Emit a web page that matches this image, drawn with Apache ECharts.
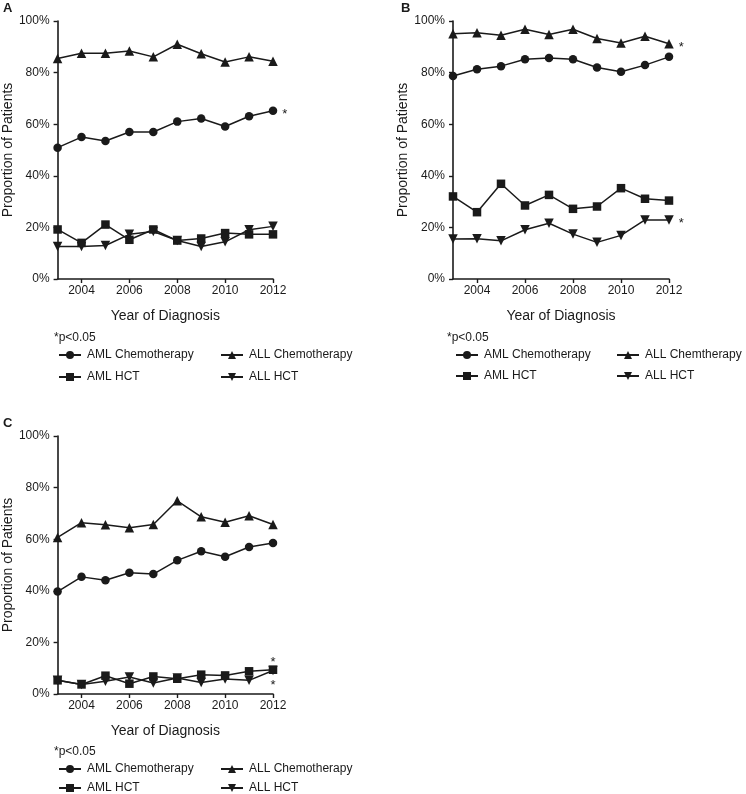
<!DOCTYPE html>
<html>
<head>
<meta charset="utf-8">
<script src="https://cdn.jsdelivr.net/npm/echarts@6/dist/echarts.min.js"></script>
<style>
html,body{margin:0;padding:0;background:#fff;}
#chart{width:746px;height:794px;}
</style>
</head>
<body>
<div id="chart"></div>
<script>
// ---- Data ----
const years = [2003, 2004, 2005, 2006, 2007, 2008, 2009, 2010, 2011, 2012];
const xTickLabels = [2004, 2006, 2008, 2010, 2012];
const yTicks = [0, 20, 40, 60, 80, 100];

// Panel A
const A_amlChemo = [50.9, 55.0, 53.5, 57.0, 57.0, 61.0, 62.2, 59.1, 63.1, 65.2];
const A_allChemo = [85.5, 87.5, 87.5, 88.4, 86.1, 91.0, 87.3, 84.1, 86.1, 84.4];
const A_amlHct   = [19.2, 14.0, 21.1, 15.2, 19.2, 14.9, 15.7, 17.8, 17.3, 17.3];
const A_allHct   = [12.6, 12.6, 13.0, 17.3, 18.4, 14.9, 12.6, 14.4, 19.1, 20.4];

// Panel B
const B_amlChemo = [78.7, 81.3, 82.5, 85.2, 85.7, 85.2, 82.0, 80.3, 82.9, 86.1];
const B_allChemo = [95.1, 95.4, 94.5, 96.8, 94.8, 96.8, 93.2, 91.5, 94.1, 91.2];
const B_amlHct   = [32.0, 25.9, 36.9, 28.5, 32.6, 27.2, 28.1, 35.2, 31.1, 30.4];
const B_allHct   = [15.5, 15.6, 14.8, 19.1, 21.6, 17.4, 14.2, 16.9, 22.9, 22.9];

// Panel C
const C_amlChemo = [39.7, 45.4, 44.1, 47.0, 46.5, 51.8, 55.3, 53.2, 57.0, 58.5];
const C_allChemo = [60.7, 66.4, 65.6, 64.4, 65.7, 74.9, 68.7, 66.6, 69.1, 65.7];
const C_amlHct   = [5.3, 3.7, 7.1, 4.0, 6.8, 5.9, 7.5, 7.2, 8.8, 9.4];
const C_allHct   = [5.3, 3.7, 4.9, 6.6, 4.3, 6.2, 4.5, 5.8, 5.3, 9.1];

const panelLabels = ['A', 'B', 'C'];
const xTitle = 'Year of Diagnosis';
const yTitle = 'Proportion of Patients';
const sigNote = '*p<0.05';
const namesAC = ['AML Chemotherapy', 'ALL Chemotherapy', 'AML HCT', 'ALL HCT'];
const namesB  = ['AML Chemotherapy', 'ALL Chemtherapy', 'AML HCT', 'ALL HCT'];

// ---- Layout / style ----
const FONT = 'Liberation Sans, Arial, Helvetica, sans-serif';
const INK = '#1a1a1a';
const grids = [
  {left: 57, top: 21, width: 216, height: 258},
  {left: 453, top: 21, width: 216, height: 258},
  {left: 57, top: 436, width: 216, height: 258}
];
const DOWN_TRI = 'path://M0,0 L10,0 L5,9 Z';
const symbols = ['circle', 'triangle', 'rect', DOWN_TRI];
const symSizes = [8.5, 9.5, 8.5, 9.5];

const panelData = [
  [A_amlChemo, A_allChemo, A_amlHct, A_allHct],
  [B_amlChemo, B_allChemo, B_amlHct, B_allHct],
  [C_amlChemo, C_allChemo, C_amlHct, C_allHct]
];
// significance marks on last point: [panel, seriesIdx, position, offset]
const sigMarks = [
  [0, 0, 'right', [1, 4]],
  [1, 1, 'right', [1, 4]],
  [1, 3, 'right', [1, 4]],
  [2, 2, 'top', [0, 7]],
  [2, 3, 'bottom', [0, 0]]
];

const xAxes = [], yAxes = [], series = [];
grids.forEach((g, p) => {
  xAxes.push({
    gridIndex: p, type: 'value', min: 2003, max: 2012,
    axisLine: {lineStyle: {color: INK, width: 1.6}},
    axisTick: {show: true, length: 4, lineStyle: {color: INK, width: 1.4}, customValues: xTickLabels},
    axisLabel: {color: INK, fontFamily: FONT, fontSize: 12, margin: 6, customValues: xTickLabels,
      formatter: v => String(v)},
    splitLine: {show: false},
    name: xTitle, nameLocation: 'middle', nameGap: 30,
    nameTextStyle: {color: INK, fontFamily: FONT, fontSize: 14}
  });
  yAxes.push({
    gridIndex: p, type: 'value', min: 0, max: 100, interval: 20,
    axisLine: {show: true, lineStyle: {color: INK, width: 1.6}},
    axisTick: {show: true, length: 4, lineStyle: {color: INK, width: 1.4}},
    axisLabel: {color: INK, fontFamily: FONT, fontSize: 12, margin: 8, formatter: '{value}%'},
    splitLine: {show: false},
    name: yTitle, nameLocation: 'middle', nameGap: 42,
    nameTextStyle: {color: INK, fontFamily: FONT, fontSize: 14}
  });
  const names = p === 1 ? namesB : namesAC;
  panelData[p].forEach((vals, s) => {
    const data = years.map((y, i) => {
      const item = {value: [y, vals[i]]};
      if (i === years.length - 1) {
        const m = sigMarks.find(d => d[0] === p && d[1] === s);
        if (m) {
          item.label = {show: true, formatter: '*', position: m[2], offset: m[3],
            color: INK, fontFamily: FONT, fontSize: 13, distance: 4};
        }
      }
      return item;
    });
    series.push({
      type: 'line', name: names[s], xAxisIndex: p, yAxisIndex: p,
      data: data, symbol: symbols[s], symbolSize: symSizes[s], showSymbol: true,
      lineStyle: {color: INK, width: 1.5}, itemStyle: {color: INK},
      label: {show: false}, animation: false, z: 3 + s
    });
  });
});

// legends
const legends = [];
const legendPos = [
  {col: [58, 220], rows: [356, 378]},
  {col: [455, 616], rows: [356, 377]},
  {col: [58, 220], rows: [770, 789]}
];
legendPos.forEach((lp, p) => {
  const names = p === 1 ? namesB : namesAC;
  names.forEach((n, s) => {
    legends.push({
      data: [n], left: lp.col[s % 2], top: lp.rows[Math.floor(s / 2)] - 7,
      padding: 0, itemWidth: 22, itemHeight: 10, itemGap: 0,
      selectedMode: false,
      textStyle: {color: INK, fontFamily: FONT, fontSize: 12, padding: [0, 0, 0, 1]}
    });
  });
});

const titles = [
  {text: panelLabels[0], left: 3, top: 2},
  {text: panelLabels[1], left: 401, top: 2},
  {text: panelLabels[2], left: 3, top: 417},
].map(t => Object.assign(t, {padding: 0, textStyle: {color: INK, fontFamily: FONT, fontSize: 13, fontWeight: 'bold'}}));
[[54, 332], [447, 332], [54, 746]].forEach(pos => {
  titles.push({text: sigNote, left: pos[0], top: pos[1], padding: 0,
    textStyle: {color: INK, fontFamily: FONT, fontSize: 12, fontWeight: 'normal'}});
});

const chart = echarts.init(document.getElementById('chart'), null, {renderer: 'canvas'});
chart.setOption({
  backgroundColor: '#ffffff',
  animation: false,
  title: titles,
  grid: grids,
  xAxis: xAxes,
  yAxis: yAxes,
  legend: legends,
  series: series
});
</script>
</body>
</html>
